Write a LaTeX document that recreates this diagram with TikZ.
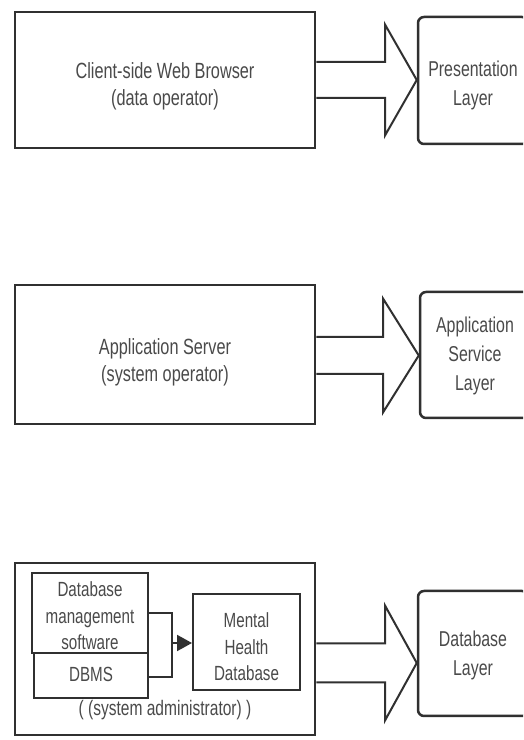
\documentclass[tikz,border=0pt]{standalone}
\usepackage{fontspec}
\setmainfont{Liberation Sans}[FakeStretch=0.74]
\usetikzlibrary{arrows.meta,calc}
\definecolor{ln}{HTML}{303030}
\definecolor{tx}{HTML}{4A4A4A}
\tikzset{
  x=1pt,y=1pt,
  outerbox/.style={draw=ln,line width=2.5pt,minimum width=300pt,inner sep=0pt,fill=white},
  layerbox/.style={draw=ln,line width=2.5pt,rounded corners=6pt,minimum width=110pt,inner sep=0pt},
  innerbox/.style={draw=ln,line width=2pt,inner sep=0pt},
  outertxt/.style={font=\fontsize{22}{27}\selectfont,text=tx,align=center,inner sep=0pt},
  layertxt/.style={font=\fontsize{21.5}{29}\selectfont,text=tx,align=center,inner sep=0pt},
  innertxt/.style={font=\fontsize{20.5}{26.5}\selectfont,text=tx,align=center,inner sep=0pt},
  bigarr/.style={draw=ln,line width=2pt,fill=white,line join=miter},
  conn/.style={draw=ln,line width=2pt},
  lbl/.style={font=\fontsize{21}{27}\selectfont,text=tx}
}
\newcommand\BigArrow[6]{% from, to, center y, shaft half, head half, base x
  \draw[bigarr] (#1.east |- 0,#3+#4) -- (#6,#3+#4) -- (#6,#3+#5) -- (#2.west |- 0,#3)
     -- (#6,#3-#5) -- (#6,#3-#4) -- (#1.east |- 0,#3-#4);
}
\begin{document}
\begin{tikzpicture}
\useasboundingbox (0,0) rectangle (523,740);
\clip (0,0) rectangle (523,740);
\fill[white] (0,0) rectangle (523,740);

% row 1
\node[outerbox,minimum height=136pt,
  label={[outertxt,yshift=-6pt]center:{Client-side Web Browser\\(data operator)}}] (b1) at (165,660) {};
\node[layerbox,minimum height=127pt,
  label={[layertxt,yshift=-5pt]center:{Presentation\\Layer}}] (l1) at (473,659.5) {};
\BigArrow{b1}{l1}{660}{18}{55.5}{385}

% row 2
\node[outerbox,minimum height=139pt,
  label={[outertxt,yshift=-8pt]center:{Application Server\\(system operator)}}] (b2) at (165,385.5) {};
\node[layerbox,minimum height=126pt,
  label={[layertxt,yshift=-1pt]center:{Application\\Service\\Layer}}] (l2) at (475,385) {};
\BigArrow{b2}{l2}{384.5}{18.5}{57}{383}

% row 3
\node[outerbox,minimum height=172pt] (b3) at (165,91) {};
\node[layerbox,minimum height=125pt,
  label={[layertxt,yshift=-2pt]center:{Database\\Layer}}] (l3) at (473,86.5) {};
\BigArrow{b3}{l3}{77}{19.5}{57.5}{385}

\node[innerbox,minimum width=114pt,minimum height=45pt,
  label={[innertxt,yshift=1pt]center:DBMS}] (dbms) at (91,64.5) {};
\node[innerbox,minimum width=116pt,minimum height=80pt,
  label={[innertxt,yshift=-3pt]center:{Database\\management\\software}}] (dms) at (90,127) {};
\node[innerbox,minimum width=107pt,minimum height=96pt,
  label={[innertxt,yshift=-5pt]center:{Mental\\Health\\Database}}] (mh) at (246.5,98) {};
\coordinate (j) at (172,97);
\draw[conn] (dms.east |- 0,127) -| (j) |- (dbms.east |- 0,63);
\draw[conn,-{Triangle[length=15pt,width=16pt]}] (j) -- (mh.west |- j);
\node[lbl] (adm) at (165,30) {( (system administrator) )};
\end{tikzpicture}
\end{document}
